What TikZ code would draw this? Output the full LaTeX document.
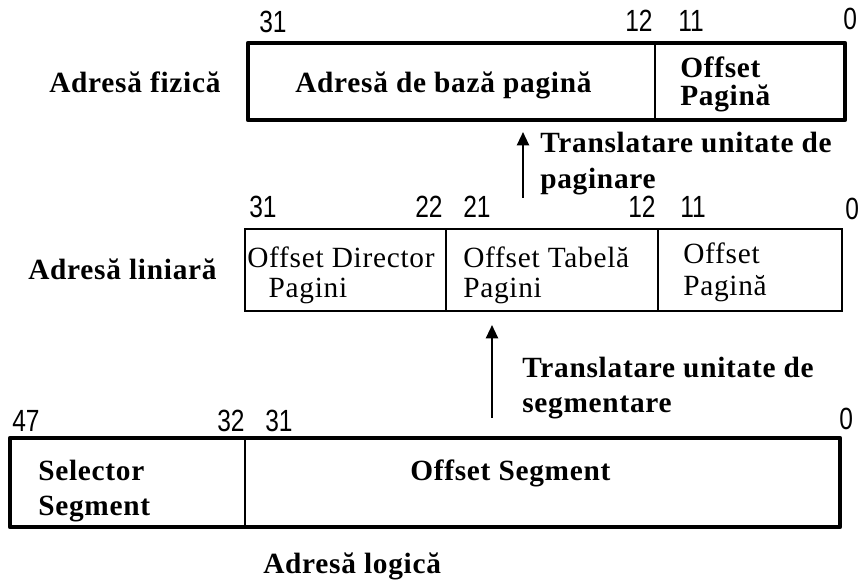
\documentclass[tikz,border=0pt]{standalone}
\usepackage{fontspec}
\setmainfont{Liberation Serif}[LetterSpace=2.5]
\newfontfamily\bitfont{Liberation Sans}[FakeStretch=0.8]
\usetikzlibrary{arrows.meta}
\begin{document}
\begin{tikzpicture}[x=0.75pt, y=-0.75pt,
    every node/.style={inner sep=0pt, anchor=base west, align=left},
    lbl/.style={font=\fontsize{22}{22}\selectfont\bfseries},
    txt/.style={font=\fontsize{22}{22.5}\selectfont},
    bit/.style={font=\fontsize{23}{23}\selectfont\bitfont},
    thickbox/.style={line width=3.5pt, line join=round},
    thinbox/.style={line width=1.8pt},
    sep/.style={line width=1.5pt},
    flow/.style={line width=1.6pt, -{Triangle[length=10pt, width=9pt]}}]
    \useasboundingbox (0,0) rectangle (860,580);
    % adresa fizica
    \draw[thickbox] (248,43) rectangle (845,120);
    \draw[sep] (655,43) -- (655,120);
    \node[lbl] (fiz) at (49,93) {Adresă fizică};
    \node[lbl] (baza) at (295,93) {Adresă de bază pagină};
    \node[font=\fontsize{22}{21}\selectfont\bfseries] (offpag1) at (680,106) {Offset\\Pagină};
    \foreach \t/\x/\y [count=\i] in {31/259/33, 12/625/32, 11/678/32, 0/843/30}
        \node[bit] (bf\i) at (\x,\y) {\t};
    % adresa liniara
    \draw[thinbox] (245,229) rectangle (842,311);
    \draw[sep] (446,229) -- (446,311);
    \draw[sep] (658,229) -- (658,311);
    \node[lbl] (lin) at (28,280) {Adresă liniară};
    \node[txt] (dir) at (247,298) {Offset Director\\\hspace*{16pt}Pagini};
    \node[txt] (tab) at (463,298) {Offset Tabelă\\Pagini};
    \node[font=\fontsize{22}{24.5}\selectfont] (offpag2) at (683,296) {Offset\\Pagină};
    \foreach \t/\x/\y [count=\i] in {31/249/218, 22/415/218, 21/463/218, 12/628/218, 11/680/218, 0/845/220}
        \node[bit] (bl\i) at (\x,\y) {\t};
    % adresa logica
    \draw[thickbox] (10,438) rectangle (840,527);
    \draw[sep] (245,438) -- (245,527);
    \node[font=\fontsize{22}{25.5}\selectfont\bfseries] (sel) at (38,515) {Selector\\Segment};
    \node[lbl] (offseg) at (410,481) {Offset Segment};
    \node[lbl] (log) at (263,573) {Adresă logică};
    \foreach \t/\x/\y [count=\i] in {47/12/432, 32/217/432, 31/265/432, 0/839/430}
        \node[bit] (bg\i) at (\x,\y) {\t};
    % translatari
    \coordinate (pagsrc) at (523,198);
    \coordinate (pagtip) at (523,132);
    \draw[flow] (pagsrc) -- (pagtip);
    \node[font=\fontsize{22}{27}\selectfont\bfseries] (trpag) at (540,189) {Translatare unitate de\\paginare};
    \coordinate (segsrc) at (492,418);
    \coordinate (segtip) at (492,325);
    \draw[flow] (segsrc) -- (segtip);
    \node[font=\fontsize{22}{26.25}\selectfont\bfseries] (trseg) at (522,413) {Translatare unitate de\\segmentare};
\end{tikzpicture}
\end{document}
